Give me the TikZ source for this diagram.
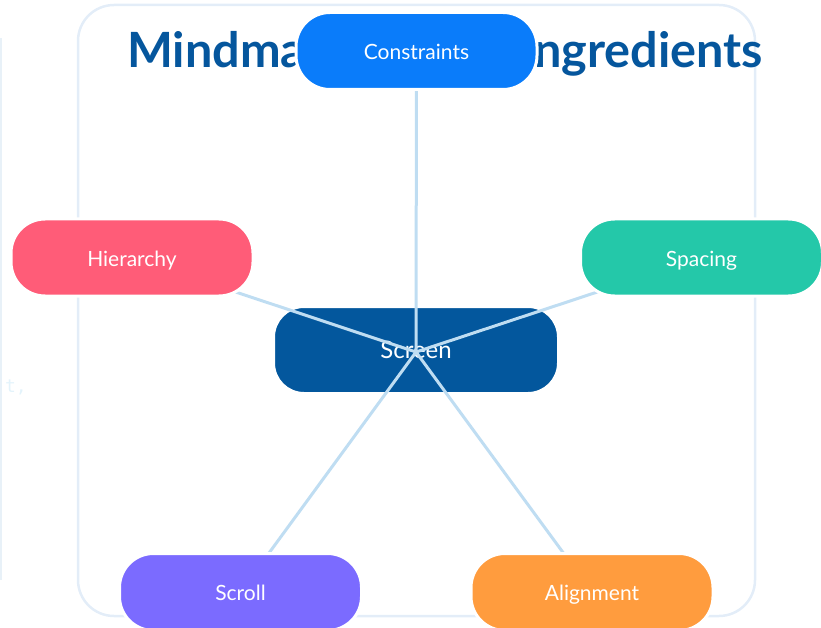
\documentclass[tikz,border=0pt]{standalone}
\usepackage{fontspec}
\setmainfont{Lato}
\newfontfamily\codefont{DejaVu Sans Mono}
\pgfdeclarelayer{bg}
\pgfdeclarelayer{hub}
\pgfdeclarelayer{edges}
\pgfsetlayers{bg,hub,edges,main}

\definecolor{framecol}{HTML}{E3EDF8}
\definecolor{titlecol}{HTML}{05569D}
\definecolor{edgecol}{HTML}{BFDDF2}
\definecolor{ghostcol}{HTML}{E8F1F8}
\definecolor{ghosttext}{HTML}{E3F3FB}
\definecolor{cBlue}{HTML}{0A7CFA}
\definecolor{cRed}{HTML}{FF5C78}
\definecolor{cTeal}{HTML}{24C8A9}
\definecolor{cNavy}{HTML}{03579D}
\definecolor{cPurple}{HTML}{7B6BFF}
\definecolor{cOrange}{HTML}{FF9C3E}

\tikzset{
  x=1pt, y=-1pt,
  leaf/.style={draw=white, line width=3pt, rounded corners=34pt,
    minimum width=242pt, minimum height=77pt, inner sep=0pt,
    text height=17.5pt, text depth=0pt,
    text=white, font=\fontsize{21}{24}\selectfont},
  hubnode/.style={draw=white, line width=2pt, rounded corners=30pt,
    minimum width=284pt, minimum height=86pt, inner sep=0pt,
    text height=16.5pt, text depth=0pt,
    text=white, font=\fontsize{24}{26}\selectfont},
  link/.style={draw=edgecol, line width=3pt}
}

\begin{document}
\begin{tikzpicture}
  \useasboundingbox (0,0) rectangle (821,628);

  \begin{pgfonlayer}{bg}
    % faint panel edge and code fragment on the left
    \draw[ghostcol, line width=2pt] (1,38) -- (1,580);
    \node[anchor=base east, text=ghosttext, inner sep=0pt,
          font=\codefont\fontsize{18}{20}\selectfont] (code) at (27,392) {t,};
    % outer frame
    \draw[framecol, line width=2.5pt, rounded corners=36pt] (78,5) rectangle (755,616);
    % title
    \node[anchor=base west, inner sep=0pt, text=titlecol,
          font=\fontsize{48.6}{54}\bfseries\selectfont] (title) at (127,68)
          {Mindmap: Screen Ingredients};
  \end{pgfonlayer}

  \begin{pgfonlayer}{hub}
    \node[hubnode, fill=cNavy] (screen) at (416,350) {Screen};
  \end{pgfonlayer}

  \node[leaf, fill=cBlue, minimum width=241pt] (constraints) at (416.5,51) {Constraints};
  \node[leaf, fill=cRed] (hierarchy) at (132,257.5) {Hierarchy};
  \node[leaf, fill=cTeal] (spacing) at (701.5,257.5) {Spacing};
  \node[leaf, fill=cPurple] (scroll) at (240.5,592) {Scroll};
  \node[leaf, fill=cOrange] (alignment) at (592,592) {Alignment};

  \begin{pgfonlayer}{edges}
    \coordinate (hubc) at (416,352);
    \foreach \t in {constraints,hierarchy,spacing,scroll,alignment}
      \draw[link] (hubc) -- (\t.center);
  \end{pgfonlayer}
\end{tikzpicture}
\end{document}
